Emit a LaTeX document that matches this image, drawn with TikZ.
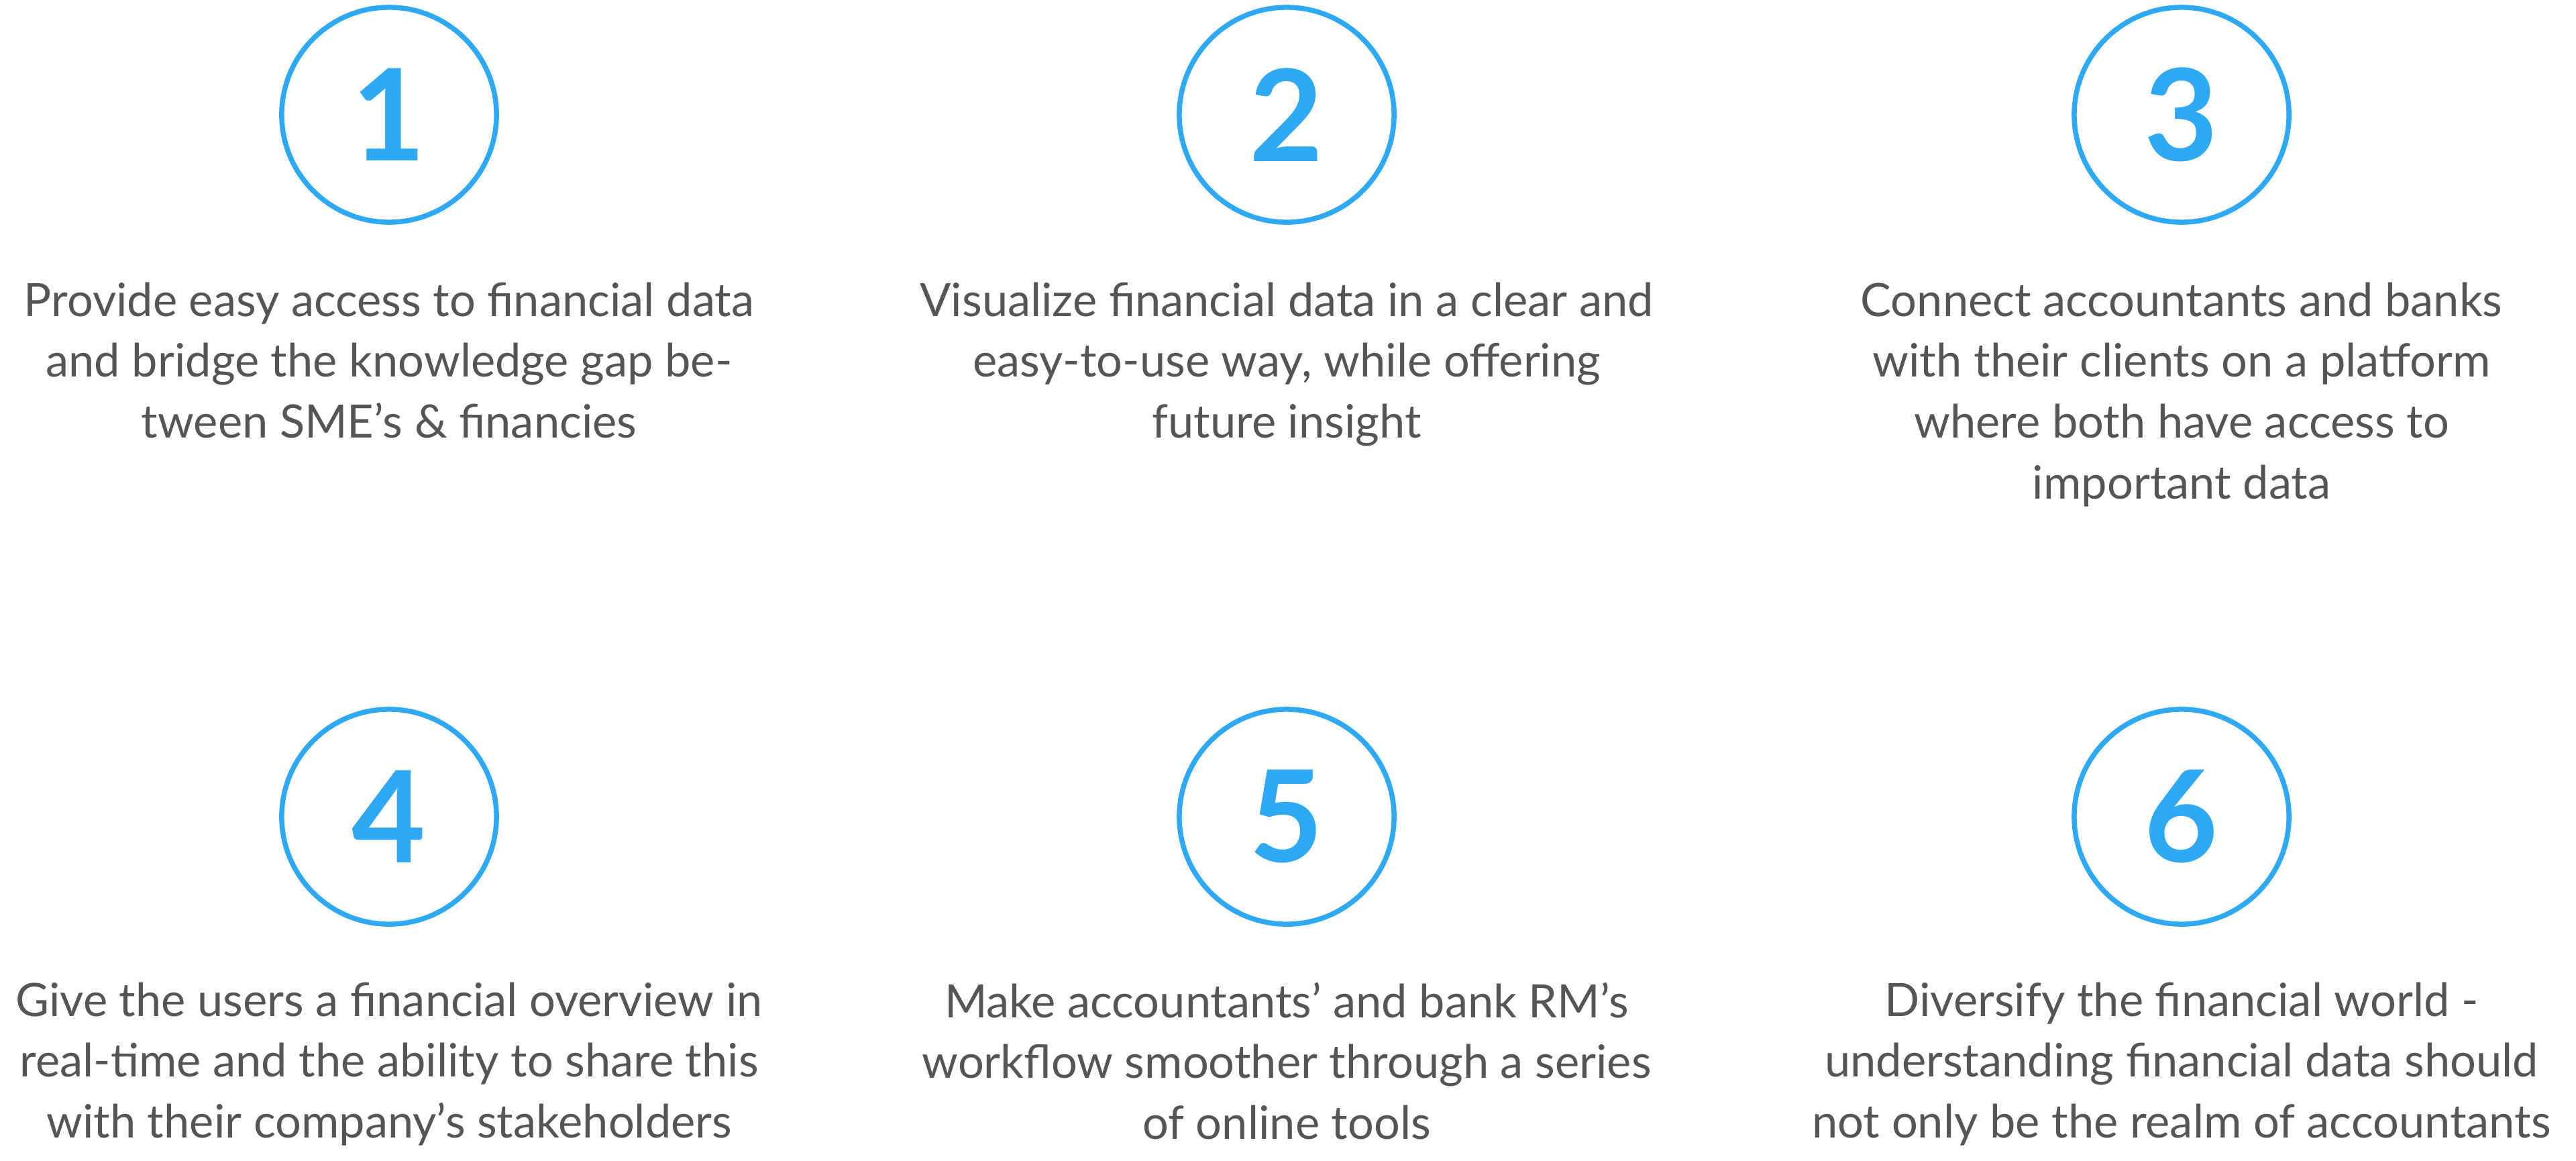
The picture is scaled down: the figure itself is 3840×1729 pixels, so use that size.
\documentclass[tikz,border=0pt]{standalone}
\usepackage{fontspec}
\setmainfont{Lato}
\definecolor{cblue}{HTML}{2EA9F5}
\definecolor{tgrey}{HTML}{555555}
\begin{document}
\begin{tikzpicture}[x=0.01cm,y=-0.01cm,
  numc/.style={circle,draw=cblue,line width=0.075cm,minimum size=3.2cm,inner sep=0pt,text=cblue,font=\fontsize{54}{54}\selectfont\bfseries},
  desc/.style={anchor=north,align=center,text=tgrey,inner sep=0pt,font=\fontsize{19.5}{25.8}\selectfont}]
\useasboundingbox (0,0) rectangle (3840,1729);
\node[numc] (c1) at (580,171) {1};
\node[numc] (c2) at (1918,171) {2};
\node[numc] (c3) at (3252,171) {3};
\node[numc] (c4) at (580,1217) {4};
\node[numc] (c5) at (1918,1217) {5};
\node[numc] (c6) at (3252,1217) {6};
\node[desc] (t1) at (580,420) {Provide easy access to financial data\\and bridge the knowledge gap be-\\tween SME’s \& financies};
\node[desc] (t2) at (1918,420) {Visualize financial data in a clear and\\easy-to-use way, while offering\\future insight};
\node[desc] (t3) at (3252,420) {Connect accountants and banks\\with their clients on a platform\\where both have access to\\important data};
\node[desc] (t4) at (580,1463) {Give the users a financial overview in\\real-time and the ability to share this\\with their company’s stakeholders};
\node[desc] (t5) at (1918,1463) {Make accountants’ and bank RM’s\\workflow smoother through a series\\of online tools};
\node[desc] (t6) at (3252,1463) {Diversify the financial world -\\understanding financial data should\\not only be the realm of accountants};
\end{tikzpicture}
\end{document}
